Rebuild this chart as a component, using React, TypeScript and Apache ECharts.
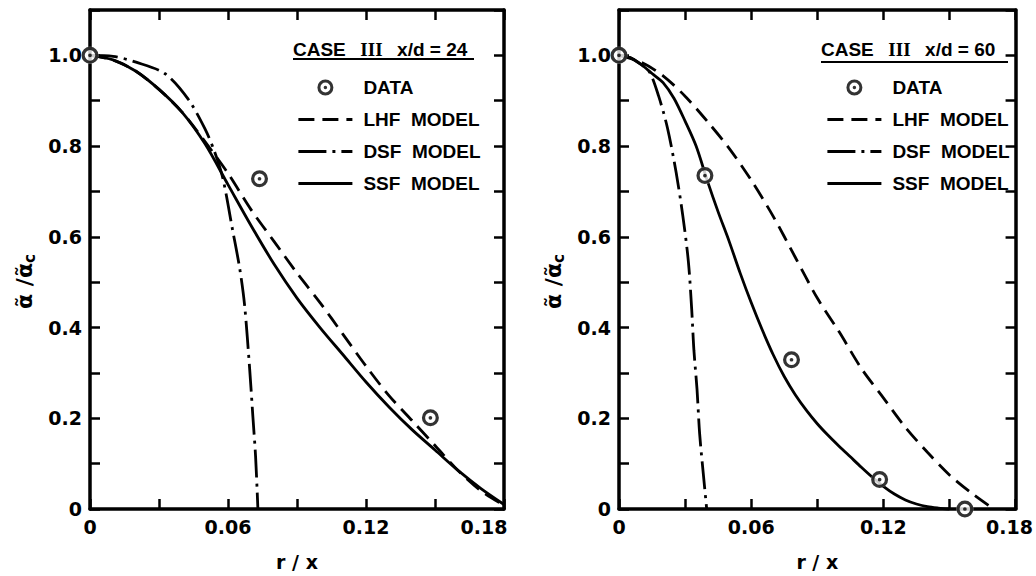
import React, { useEffect, useRef } from 'react';
import * as echarts from 'echarts';

// ---- tick labels / legend texts ----
const xTickLabels = ['0', '0.06', '0.12', '0.18'];
const yTickLabels = ['0', '0.2', '0.4', '0.6', '0.8', '1.0'];
const legendNames = ['DATA', 'LHF MODEL', 'DSF MODEL', 'SSF MODEL'];
const panelTitles = ['x/d = 24', 'x/d = 60'];

// ---- left panel (x/d = 24) ----
const leftDataX = [0, 0.0737, 0.148];
const leftDataY = [1.0, 0.728, 0.201];

const leftLhfX = [0, 0.01, 0.02, 0.03, 0.04, 0.05, 0.06, 0.07, 0.08, 0.09, 0.1, 0.11, 0.12, 0.13, 0.14, 0.15, 0.16, 0.17, 0.18];
const leftLhfY = [1.0, 0.99, 0.965, 0.925, 0.875, 0.81, 0.74, 0.66, 0.59, 0.52, 0.455, 0.385, 0.315, 0.25, 0.195, 0.14, 0.085, 0.04, 0.008];

const leftSsfX = [0, 0.01, 0.02, 0.03, 0.04, 0.05, 0.06, 0.07, 0.08, 0.09, 0.1, 0.11, 0.12, 0.13, 0.14, 0.15, 0.16, 0.17, 0.18];
const leftSsfY = [1.0, 0.99, 0.965, 0.925, 0.875, 0.805, 0.715, 0.625, 0.54, 0.465, 0.4, 0.34, 0.28, 0.225, 0.175, 0.13, 0.085, 0.045, 0.01];

const leftDsfX = [0, 0.01, 0.02, 0.0325, 0.0426, 0.05, 0.0542, 0.0578, 0.062, 0.0651, 0.0672, 0.0694, 0.0708, 0.072, 0.073];
const leftDsfY = [1.0, 0.998, 0.985, 0.96, 0.904, 0.838, 0.787, 0.728, 0.615, 0.53, 0.45, 0.31, 0.205, 0.115, 0.0];

// ---- right panel (x/d = 60) ----
const rightDataX = [0, 0.039, 0.0783, 0.1183, 0.157];
const rightDataY = [1.0, 0.735, 0.329, 0.065, 0.0];

const rightLhfX = [0, 0.01, 0.02, 0.03, 0.04, 0.05, 0.06, 0.07, 0.08, 0.09, 0.1, 0.11, 0.12, 0.13, 0.14, 0.15, 0.16, 0.17];
const rightLhfY = [1.0, 0.985, 0.955, 0.91, 0.855, 0.795, 0.725, 0.645, 0.555, 0.465, 0.39, 0.31, 0.245, 0.18, 0.125, 0.075, 0.035, 0.0];

const rightSsfX = [0, 0.005, 0.01, 0.015, 0.02, 0.025, 0.03, 0.035, 0.04, 0.045, 0.05, 0.055, 0.06, 0.065, 0.07, 0.075, 0.08, 0.085, 0.09, 0.095, 0.1, 0.105, 0.11, 0.115, 0.12, 0.125, 0.13, 0.135, 0.14, 0.145, 0.15];
const rightSsfY = [1.0, 0.995, 0.98, 0.96, 0.94, 0.905, 0.855, 0.8, 0.725, 0.655, 0.59, 0.52, 0.455, 0.395, 0.34, 0.292, 0.252, 0.218, 0.188, 0.162, 0.138, 0.115, 0.092, 0.07, 0.05, 0.033, 0.02, 0.011, 0.005, 0.002, 0.0];

const rightDsfX = [0, 0.005, 0.01, 0.014, 0.018, 0.022, 0.026, 0.029, 0.0315, 0.033, 0.034, 0.0354, 0.0366, 0.0384, 0.0398];
const rightDsfY = [1.0, 0.995, 0.98, 0.962, 0.91, 0.84, 0.74, 0.645, 0.545, 0.44, 0.35, 0.265, 0.166, 0.071, 0.0];

const X_MAX = 0.18;
const Y_MAX = 1.1;
const X_STEP = 0.03;
const Y_STEP = 0.1;

const DATA_SYMBOL =
  'path://M0,-10A10,10,0,1,1,0,10A10,10,0,1,1,0,-10ZM0,-6.2A6.2,6.2,0,1,0,0,6.2A6.2,6.2,0,1,0,0,-6.2ZM0,-2.2A2.2,2.2,0,1,1,0,2.2A2.2,2.2,0,1,1,0,-2.2Z';

const tickFont = { fontFamily: 'DejaVu Sans', fontWeight: 'bold' as const, fontSize: 19, color: '#000' };
const legendFont = { fontFamily: 'Liberation Sans', fontWeight: 'bold' as const, fontSize: 19, color: '#000' };

function fmtX(v: number) {
  const lab = xTickLabels.find((s) => Math.abs(parseFloat(s) - v) < 1e-6);
  if (!lab) return '';
  if (Math.abs(v - X_MAX) < 1e-6) return `{last|${lab}}`;
  return lab;
}
function fmtY(v: number) {
  const lab = yTickLabels.find((s) => Math.abs(parseFloat(s) - v) < 1e-6);
  return lab ?? '';
}

const axisLine = { show: true, onZero: false, lineStyle: { color: '#000', width: 3.5 } };
const axisTick = { show: true, inside: true, length: 10, lineStyle: { color: '#000', width: 2.5 } };

function makeX(grid: number, pos: 'bottom' | 'top', labels: boolean, lastShift: number) {
  return {
    type: 'value',
    gridIndex: grid,
    position: pos,
    min: 0,
    max: X_MAX,
    interval: X_STEP,
    axisLine,
    axisTick,
    splitLine: { show: false },
    axisLabel: labels
      ? {
          show: true,
          formatter: fmtX,
          margin: 8,
          showMinLabel: true,
          showMaxLabel: true,
          ...tickFont,
          rich: { last: { ...tickFont, padding: [0, lastShift, 0, 0] } },
        }
      : { show: false },
    name: labels ? 'r / x' : '',
    nameLocation: 'middle',
    nameGap: 43,
    nameTextStyle: { ...tickFont },
  };
}

function makeY(grid: number, pos: 'left' | 'right', labels: boolean) {
  return {
    type: 'value',
    gridIndex: grid,
    position: pos,
    min: 0,
    max: Y_MAX,
    interval: Y_STEP,
    axisLine,
    axisTick,
    splitLine: { show: false },
    axisLabel: labels
      ? { show: true, formatter: fmtY, margin: 8, showMinLabel: true, showMaxLabel: true, ...tickFont }
      : { show: false },
    name: labels ? '{a|α̃ /α̃}{c|c}{sp| }' : '',
    nameLocation: 'middle',
    nameGap: 53,
    nameTextStyle: {
      ...tickFont,
      rich: {
        a: { ...tickFont, fontSize: 22, lineHeight: 26 },
        c: { ...tickFont, fontSize: 15, lineHeight: 14, verticalAlign: 'bottom' },
        sp: { ...tickFont, width: 44 },
      },
    },
  };
}

function pairs(xs: number[], ys: number[]) {
  return xs.map((x, i) => [x, ys[i]]);
}

function lineSeries(name: string, xs: number[], ys: number[], axisIdx: number, dash: any) {
  return {
    type: 'line',
    name,
    xAxisIndex: axisIdx,
    yAxisIndex: axisIdx,
    data: pairs(xs, ys),
    smooth: 0.3,
    symbol: 'none',
    showSymbol: false,
    clip: false,
    silent: true,
    z: 2,
    itemStyle: { color: '#000' },
    lineStyle: { color: '#000', width: 2.8, type: dash },
  };
}

function dataSeries(xs: number[], ys: number[], axisIdx: number) {
  return [
    {
      type: 'scatter',
      name: 'bg',
      xAxisIndex: axisIdx,
      yAxisIndex: axisIdx,
      data: pairs(xs, ys),
      symbol: 'circle',
      symbolSize: 17,
      itemStyle: { color: '#fff' },
      clip: false,
      silent: true,
      z: 3,
    },
    {
      type: 'scatter',
      name: 'DATA',
      xAxisIndex: axisIdx,
      yAxisIndex: axisIdx,
      data: pairs(xs, ys),
      symbol: DATA_SYMBOL,
      symbolSize: 17,
      itemStyle: { color: '#000' },
      clip: false,
      silent: true,
      z: 4,
    },
  ];
}

const LHF_DASH = [16, 8];
const DSF_DASH = [28, 6, 3, 6];

export default function App() {
  const ref = useRef<HTMLDivElement>(null);

  useEffect(() => {
    if (!ref.current) return;
    const chart = echarts.init(ref.current, undefined, { renderer: 'svg' });

    const legendLeft = [297, 826];
    const titleLeft = [293, 821];

    const option: any = {
      animation: false,
      backgroundColor: '#fff',
      grid: [
        { left: 90, top: 10, width: 414, height: 502 },
        { left: 619, top: 10, width: 411, height: 502 },
      ],
      xAxis: [
        makeX(0, 'bottom', true, 40),
        makeX(0, 'top', false, 0),
        makeX(1, 'bottom', true, 12),
        makeX(1, 'top', false, 0),
      ],
      yAxis: [makeY(0, 'left', true), makeY(0, 'right', false), makeY(1, 'left', true), makeY(1, 'right', false)],
      title: [0, 1].map((i) => ({
        text: `{b|CASE}  {s|III}  {b|${panelTitles[i]}}`,
        left: titleLeft[i],
        top: 39,
        padding: 0,
        textStyle: {
          ...legendFont,
          lineHeight: 20,
          rich: {
            b: { ...legendFont, lineHeight: 20 },
            s: { fontFamily: 'Liberation Serif', fontWeight: 'bold', fontSize: 19, color: '#000', lineHeight: 20, padding: [0, 4, 0, 4] },
          },
        },
      })),
      legend: [0, 1].map((i) => ({
        orient: 'vertical',
        left: legendLeft[i],
        top: 78,
        padding: 0,
        itemWidth: 54,
        itemHeight: 16,
        itemGap: 13,
        selectedMode: false,
        data: legendNames.map((n) =>
          n === 'DATA' ? { name: n } : { name: n, itemStyle: { color: 'rgba(0,0,0,0)', borderWidth: 0 } }
        ),
        formatter: (n: string) => n.replace(' ', '  '),
        textStyle: { ...legendFont, lineHeight: 16, padding: [0, 0, 0, 6] },
        lineStyle: { width: 2.8 },
      })),
      graphic: [
        { type: 'line', shape: { x1: 293, y1: 59, x2: 474, y2: 59 }, style: { stroke: '#000', lineWidth: 2 } },
        { type: 'line', shape: { x1: 821, y1: 62, x2: 1008, y2: 62 }, style: { stroke: '#000', lineWidth: 2 } },
      ],
      series: [
        lineSeries('LHF MODEL', leftLhfX, leftLhfY, 0, LHF_DASH),
        lineSeries('DSF MODEL', leftDsfX, leftDsfY, 0, DSF_DASH),
        lineSeries('SSF MODEL', leftSsfX, leftSsfY, 0, 'solid'),
        ...dataSeries(leftDataX, leftDataY, 0),
        lineSeries('LHF MODEL', rightLhfX, rightLhfY, 2, LHF_DASH),
        lineSeries('DSF MODEL', rightDsfX, rightDsfY, 2, DSF_DASH),
        lineSeries('SSF MODEL', rightSsfX, rightSsfY, 2, 'solid'),
        ...dataSeries(rightDataX, rightDataY, 2),
      ],
    };

    chart.setOption(option);
    return () => chart.dispose();
  }, []);

  return (
    <div
      ref={ref}
      style={{ position: 'absolute', left: 0, top: 0, width: 1036, height: 576, background: '#fff' }}
    />
  );
}
